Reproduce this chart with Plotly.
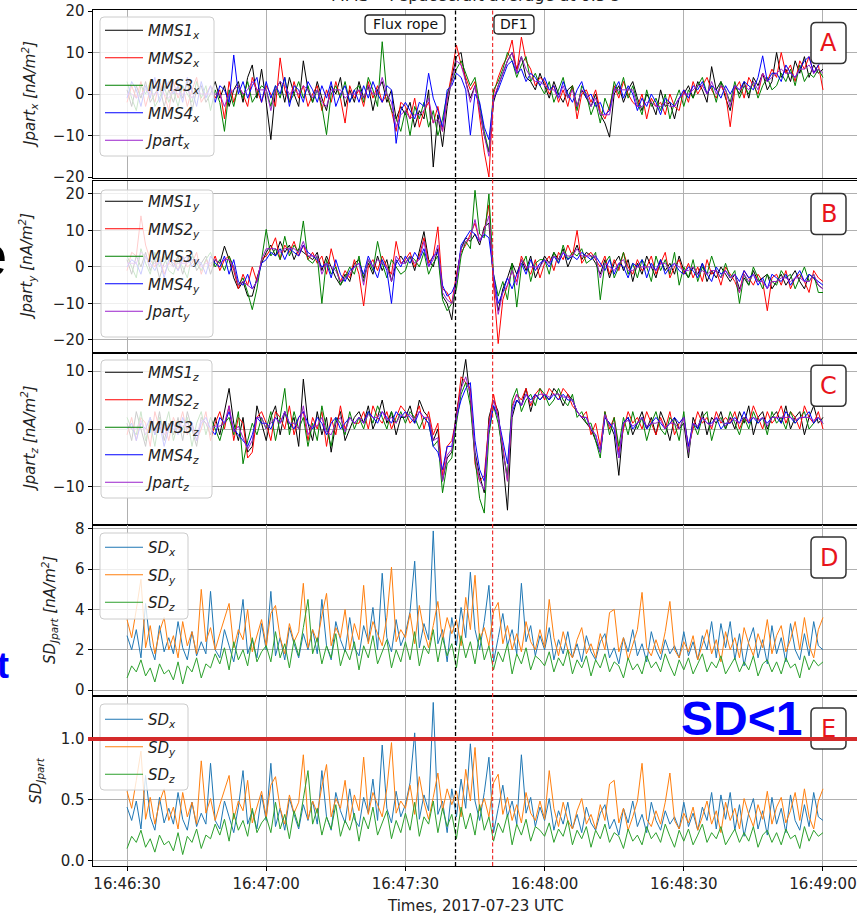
import plotly.graph_objects as go
import pandas as pd

W, H = 857, 924

# ---------------- data ----------------
START = "2017-07-23 16:46:30"
N_SAMPLES = 151
STEP = "1s"
times = pd.date_range(START, periods=N_SAMPLES, freq=STEP).strftime("%Y-%m-%d %H:%M:%S").tolist()

x_tickvals = ["2017-07-23 16:46:30", "2017-07-23 16:47:00", "2017-07-23 16:47:30",
              "2017-07-23 16:48:00", "2017-07-23 16:48:30", "2017-07-23 16:49:00"]
x_ticktext = ["16:46:30", "16:47:00", "16:47:30", "16:48:00", "16:48:30", "16:49:00"]
x_range = ["2017-07-23 16:46:22.56", "2017-07-23 16:49:07.33"]

flux_rope_time = "2017-07-23 16:47:40.8"
df1_time = "2017-07-23 16:47:48.8"

mms1_x = [1, -3, 2, -1, 3, -2, 0, 2, -3, 1,
          -2, 2, -1, 3, -4, 1, 2, -2, 0, 3,
          -1, 2, -3, 1, 3, -2, 4, 7, -1, 6,
          -2, -11, 1, 3, -2, 4, 0, -3, 8, 1,
          -2, 3, -1, -4, 2, 0, 4, -3, 1, -2,
          3, -1, 2, -4, 1, 3, -2, 1, -6, -3,
          -5, -2, -8, -4, -6, 1, -17.6, -5, -12.7, -3,
          4, 9, 10, 3, -1, 2, -4, -10, -14, -2,
          2, 5, 8, 10, 6, 9, 4, 3, 1, 5,
          2, -1, 3, 0, -2, 1, 2, -3, 1, -1,
          -3, 0, -5, -7, -10.4, 0, 2, -2, 1, 3,
          -1, -4, 0, -2, -5, 1, -3, -2, -6, -1,
          0, 2, -1, 3, 1, -2, 6.6, 1, 3, -1,
          -4, 2, 0, 3, -1, 4, 2, 5, 1, 3,
          10, 4, 6, 3, 8, 5, 9, 4, 7, 5,
          6]
mms2_x = [-2, 2, -1, 3, -3, 1, -2, 3, 0, -4,
          3, -1, 2, -3, 1, 4, -2, 0, 2, -1,
          1, -6, 3, -2, 2, 0, -3, 4, 1, -2,
          2, 0, -3, 8.7, 1, -2, 3, -1, 2, -3,
          0, 2, -4, 1, -2, 3, -1, -7, 2, -1,
          1, -3, 3, -1, 2, -2, 0, -4, -9, -2,
          -3, -6, -1, -8, -4, -2, -7, -3, -9, -1,
          5, 11.8, 7, 4, 1, 3, -6, -14, -20, 0,
          4, 7, 9, 13, 5, 13.7, 8, 6, 2, 4,
          3, 0, 2, -2, 1, -3, 2, -6, 0, 1,
          -2, 1, -4, -6, -3, 2, -1, 3, 0, -2,
          -3, 0, -6, -1, -3, -2, -5, 0, -3, -4,
          1, -2, 3, 0, 2, 4, 1, -1, 2, 0,
          -7.9, 1, 3, -1, 4, 2, 0, 5, 3, 6,
          4, 10, 5, 7, 3, 8, 6, 9, 5, 7,
          1]
mms3_x = [3, -1, -4, 2, 0, 3, -3, -1, 2, -2,
          1, -3, 2, 0, -2, 3, -1, 2, -4, 1,
          -2, -9, 1, -3, 2, -1, 3, -2, 0, 2,
          1, -3, 2, -1, 4, -2, 0, 3, -1, 2,
          -2, 1, -3, -9.8, 0, 2, -1, 3, -2, 1,
          2, -2, 4, 1, -3, 12.6, 0, -4, -6, -9,
          -4, -10, -3, -6, -2, -8, -4, -10, -6, 0,
          3, 6, 8, 5, 2, 4, -3, -9, -14, 1,
          3, 6, 10, 8, 4, 7, 9, 3, 5, 2,
          0, 3, -2, 1, 4, -1, 2, -4, 2, 0,
          -5, -2, -7, -1, -4, 3, 0, 4, -1, 2,
          -2, -5, 1, -3, -1, -4, 0, -6, -2, 1,
          -3, 1, -1, 2, 4, 0, 2, -2, 3, 1,
          -2, 3, -1, 2, 0, 3, -1, 2, 4, 1,
          2, 5, 3, 6, 2, 7, 3, 5, 4, 6,
          4]
mms4_x = [-1, 3, 1, -3, 2, -1, 4, -2, 1, 3,
          0, 2, -2, 4, 1, -3, 3, -1, 2, -2,
          2, 1, -2, 9.4, 0, 3, -1, 2, 4, -2,
          3, -1, 2, 0, 4, -3, 2, 1, -2, 3,
          1, -2, 2, -1, 3, -3, 0, 2, -2, 1,
          -2, 2, -1, 3, 0, -2, 2, 1, -11.9, -4,
          -2, -4, -6, -2, -3, 5, -1, -4, -8, 1,
          2, 5, 4, 1, -9.9, 0, -2, -8, -11, -1,
          1, 4, 7, 8, 5, 6, 3, 5, 4, 2,
          4, 1, 2, -1, 3, 0, -2, 1, 3, -1,
          0, -3, -2, -5, -4, 1, 3, -1, 2, 0,
          -4, -1, -3, 0, -2, -5, -1, -2, -3, -1,
          1, -1, 2, 1, 3, 0, 2, 1, -1, 2,
          0, 2, 1, 3, 2, 1, 4, 9.2, 3, 5,
          5, 3, 7, 5, 4, 6, 8, 9, 5, 7,
          8]
jpart_x = [0, 0, -1, 0, 1, 0, 0, 1, 0, -1,
           1, 0, 0, 1, -1, 1, 0, 0, 0, 0,
           0, -3, 0, 1, 2, 0, 1, 3, 1, 1,
           1, -4, 1, 3, 2, 0, 1, 0, 2, 1,
           -1, 1, -2, -3, 1, 1, 1, -1, 0, 0,
           1, -1, 2, 0, 0, 4, 0, -2, -8, -5,
           -4, -6, -5, -5, -4, -1, -7, -6, -9, -1,
           3, 8, 7, 3, -2, 2, -4, -10, -15, -1,
           2, 5, 8, 10, 5, 9, 6, 4, 3, 3,
           2, 1, 1, -1, 2, -1, 1, -3, 1, 0,
           -3, -1, -5, -5, -5, 1, 1, 1, 1, 1,
           -3, -3, -2, -2, -3, -3, -2, -3, -3, -1,
           0, 0, 1, 2, 2, 0, 3, 0, 2, 1,
           -3, 2, 1, 2, 1, 3, 1, 5, 3, 4,
           5, 6, 5, 5, 4, 6, 6, 7, 5, 6,
           5]

mms1_y = [2, -2, 3, 0, 4, -1, 2, -3, 1, 3,
          0, 3, -2, 2, 4, -1, 1, 3, -2, 2,
          1, 5.7, 2, -3, -6, -4, -8, -8, -3, 1,
          4, 6, 3, 7, 4, 6, 2, 5, 4, 3,
          2, 4, -1, 3, 0, -3, -5, -2, -4, 1,
          2, -3, 1, -2, 3, -1, 2, -4, 1, 3,
          1, 3, -1, 4, 9.7, 2, 0, 5, -8, -10,
          -14.5, -3, 5, 8, 7, 9, 6, 11, 12, -4,
          -12, -6, -3, 1, -2, 2, -1, 3, -3, 0,
          3, 1, 4, 2, 5, 0, 3, 6, 2, 4,
          3, 1, -2, 2, -3, 1, 3, -1, 2, -4,
          1, -2, 3, 0, -3, 2, -1, 1, -2, 3,
          -1, -3, 0, -2, 1, -4, -1, -3, 0, -2,
          -4, -2, -6, -3, -5, -1, -4, -3, -2, -6,
          -4, -2, -5, -3, -1, -4, -6, -2, -3, -5,
          -6]
mms2_y = [-1, 4, 3, 14, 6, 2, 0, 3, -2, 1,
          2, -1, 3, 0, 1, 4, -2, 2, 0, 3,
          -1, 2, 3, -1, -6, -2, -5, 0, -4, 2,
          3, 5, 8, 2, 6, 4, 7, 3, 6, 2,
          4, 1, 3, -2, 5, 0, -4, -1, -3, 2,
          -2, -10.7, 0, 2, -1, 3, 0, -2, 7, 1,
          2, 4, 0, 3, 8, 1, 3, 11, -6, -7,
          -10, -2, 4, 6, 9, 12, 7, 10, 17, -5,
          -21, -9, -5, -1, -4, 3, 0, -2, 2, -3,
          1, 3, -1, 4, 2, 6, 3, 10, 1, 3,
          4, 2, 0, 3, -2, 2, -1, 4, 0, -2,
          2, -1, 0, 3, -2, 1, 4, -3, 0, 2,
          -2, 1, -3, 0, -4, 2, -2, -1, -5, 0,
          -2, -4, -7, -1, -3, -5, -2, -4, -12, -3,
          -2, -5, -1, -6, -3, -2, -4, -7, -1, -3,
          -4]
mms3_y = [3, 0, -3, 5, 1, -2, 4, 0, 3, -1,
          -2, 2, 0, -3, 3, 1, -1, 2, 4, 0,
          2, -1, 3, 0, -5, -3, -7, -11.7, -6, 2,
          10.3, 3, 5, 2, 8.4, 3, 6, 4, 12.6, 2,
          1, 3, -10, 2, -2, 0, -5, -3, 0, -2,
          3, -4, 2, -1, 7, 1, -3, 2, 0, -2,
          -1, 3, 2, 0, 4, -2, 1, 3, -9, -12,
          -10, -6, 3, 7, 5, 21, 9, 8, 20, -2,
          -8, -4, -9, 1, -11, 0, 3, -4, 1, 2,
          2, -2, 4, 1, 6, 2, 4, 3, 5, 1,
          2, 4, -9, 1, 3, -3, 0, 4, -2, 1,
          -3, 2, 0, -4, 3, -1, 2, -2, 4, -5,
          0, -3, 2, -4, 0, -2, 3, -1, -3, 1,
          -3, -1, -10, -2, -5, 0, -3, -6, -2, -4,
          -5, -1, -3, -2, -6, -3, 0, -4, -2, -7,
          -7]
mms4_y = [0, 2, 1, -2, 3, 1, -1, 2, -3, 2,
          1, -1, 2, 3, 0, 2, 1, -2, 3, 1,
          0, 3, -2, 2, -4, -5, -2, -6, -4, 1,
          2, 4, 3, 5, 2, 5, 4, 3, 6, 4,
          3, 2, 0, 1, -3, 2, -2, -4, -1, 0,
          1, -2, 3, 0, -3, 2, -1, -10, 2, 0,
          3, 1, 4, 2, 5, 0, 3, 4, -5, -8,
          -7, -4, 6, 8, 10, 9, 7, 9, 8, -2,
          -10, -7, -3, -6, -2, 1, -2, 2, -1, 1,
          2, 0, 3, 1, 4, 2, 3, 2, 4, 3,
          2, 3, 1, -1, 2, -2, 1, 0, -3, 1,
          0, 2, -3, 1, -1, 2, -2, 0, 1, -1,
          -2, 0, -1, -3, 1, -2, -4, 0, -2, -1,
          -3, -2, -4, -1, -3, -2, -5, -3, -6, -2,
          -3, -4, -2, -5, -3, -1, -4, -2, -3, -4,
          -5]
jpart_y = [1, 1, 1, 4, 3, 0, 1, 1, 0, 1,
           0, 1, 1, 1, 2, 2, 0, 1, 1, 2,
           1, 2, 2, 0, -5, -4, -5, -6, -4, 2,
           5, 5, 5, 4, 5, 5, 5, 4, 7, 3,
           3, 3, -2, 1, 0, -1, -4, -3, -2, 0,
           1, -5, 2, 0, 2, 1, 0, -4, 3, 1,
           1, 3, 1, 2, 7, 0, 2, 6, -7, -9,
           -10, -4, 5, 7, 8, 13, 7, 10, 14, -3,
           -13, -7, -5, -1, -5, 2, 0, 0, 0, 0,
           2, 1, 3, 2, 4, 3, 3, 5, 3, 3,
           3, 3, -3, 1, 0, -1, 1, 2, -1, -1,
           0, 0, 0, 0, -1, 1, 1, -1, 1, 0,
           -1, -1, 0, -2, -1, -2, -1, -1, -3, -1,
           -3, -2, -7, -2, -4, -2, -4, -4, -6, -4,
           -4, -3, -3, -4, -3, -3, -4, -4, -2, -5,
           -6]

mms1_z = [1, -2, 3, 0, -3, 2, -1, 3, -2, 1,
          -1, 2, -2, 3, 0, -3, 2, 1, -1, 2,
          -1, 3, 7, 1, -2, 2, -4, -3, 4, 1,
          -2, 2, 4, -1, 3, 0, 2, -3, 8.6, 1,
          -2, 3, -1, 2, -4, 1, 3, -2, 0, 2,
          3, 1, 4, 0, 2, 5, 1, 3, -1, 2,
          2, 4, 1, 5, 3, 2, -2, 0, -9, -5,
          -4, 3, 7, 12, 5, -4, -8, -11, 2, 5,
          3, -5, -14, 2, 5, 4, 7, 3, 6, 5,
          6, 5, 7, 6, 4, 6, 5, 3, 2, 1,
          0, -2, -4, 2, 1, -1, -8, 1, 2, -1,
          1, 3, 0, 2, -1, 3, 1, -2, 2, 0,
          1, -5, 2, 0, 3, -1, 2, 1, 3, 0,
          2, 0, 3, 1, 4, -1, 2, 3, 0, 2,
          3, 1, 4, 0, 2, 3, -1, 2, 4, 1,
          2]
mms2_z = [-1, 2, -2, 2, 1, -3, 3, 0, 1, -2,
          2, 0, 3, -1, 1, -2, 0, 3, -2, 1,
          3, 0, 4, -2, 2, 1, -5, -4, 2, 3,
          1, -2, 3, 2, 0, 4, -1, 2, 3, -2,
          2, 0, 3, -3, 2, -1, 4, 0, 2, 1,
          1, 3, 0, 4, 2, 1, 3, 0, 2, 4,
          3, 1, 2, 4, 0, 3, -1, 1, -8, -3,
          -2, 2, 9, 8, 7, -6, -9, -8, 1, 6,
          2, -3, -9, 4, 6, 5, 7, 4, 6, 7,
          5, 7, 6, 5, 7, 6, 4, 3, 2, 3,
          -1, 1, -3, 3, 0, 2, -4, 0, 3, 1,
          2, 0, 3, 1, -1, 2, 0, 3, -1, 1,
          2, -3, 0, 3, 1, 2, 0, 3, 1, 2,
          1, 3, 0, 2, 1, 4, 2, 0, 3, 1,
          2, 4, 1, 3, 2, 0, 4, 2, 1, 3,
          0]
mms3_z = [2, 0, -1, 3, -2, 1, -3, 2, 0, 3,
          -2, 1, 0, 2, -3, 1, 3, -1, 2, 0,
          -2, 1, 2, -1, 3, -6, -2, 1, -1, 2,
          0, 3, -2, 2, 7, -1, 3, 0, 2, -3,
          1, -2, 4, 0, -3, 2, 1, -1, 3, 0,
          2, 0, 3, 1, 4, 2, 0, 3, 1, 3,
          1, 3, 2, 0, 2, 1, -3, -2, -11, -6,
          -5, 1, 6, 8, 4, -5, -12, -14.5, -1, 4,
          1, -4, -8, 5, 7, 3, 5, 6, 4, 7,
          6, 4, 5, 7, 5, 4, 6, 2, 3, 1,
          1, -2, -5, 3, -1, 2, -3, 2, -1, 3,
          0, 2, -2, 1, 3, 0, -1, 2, 1, -2,
          3, -4, 1, -1, 2, 3, -2, 1, 2, 0,
          3, 1, -1, 2, 0, 3, 1, 2, -1, 3,
          1, 2, 0, 3, 1, 2, 3, 0, 1, 2,
          1]
mms4_z = [0, 1, -2, 1, 0, 2, -1, 1, -3, 0,
          1, -1, 2, 0, 1, -2, 1, 2, 0, -1,
          2, 1, 3, 0, -1, -2, -3, -1, 2, 1,
          1, 0, 2, 1, 3, 1, 0, 2, 3, 1,
          0, 2, 1, -1, 1, 2, 0, 1, 2, 1,
          2, 1, 3, 2, 1, 3, 2, 1, 3, 2,
          3, 2, 1, 3, 2, 1, -3, -4, -7, -3,
          -3, 2, 5, 7, 8, -2, -7, -9, 0, 4,
          2, -2, -6, 3, 5, 4, 6, 5, 6, 5,
          6, 5, 6, 5, 6, 5, 5, 3, 2, 2,
          0, -1, -4, 2, 1, 0, -5, 1, 2, 0,
          1, 2, 0, 1, 2, 1, 0, 1, 2, 1,
          2, -3, 1, 0, 2, 1, 1, 2, 0, 1,
          1, 2, 1, 3, 1, 2, 1, 2, 1, 2,
          2, 1, 3, 2, 1, 2, 2, 3, 1, 2,
          1]
jpart_z = [0.5, 0, 0, 1.5, -1, 0.5, -0.5, 1.5, -1, 0.5,
           0, 0.5, 0.5, 1, 0, -1, 1.5, 1, 0, 0.5,
           0.5, 1, 4, -0.5, 0.5, -1.5, -3.5, -2, 2, 2,
           0, 1, 2, 1, 3, 1, 1, 0, 4, -1,
           0.5, 0.5, 2, -0.5, -1, 1, 2, -0.5, 2, 1,
           2, 1, 2.5, 2, 2, 3, 1.5, 2, 1, 2.5,
           2, 2.5, 1.5, 3, 2, 2, -2, -1.5, -9, -4.5,
           -3.5, 2, 7, 9, 6, -4.5, -9, -10.5, 0.5, 5,
           2, -3.5, -9, 3.5, 6, 4, 6, 4.5, 5.5, 6,
           6, 5.5, 6, 6, 5.5, 5.5, 5, 3, 2, 2,
           0, -1, -4, 2.5, 0.5, 1, -5, 1, 1.5, 0.5,
           1, 2, 0.5, 1, 1, 1.5, 0, 1, 1, 0,
           2, -4, 1, 0.5, 2, 1, 0.5, 2, 1.5, 0.5,
           2, 1.5, 1, 2, 1.5, 2, 1.5, 2, 0.5, 2,
           2, 2, 2, 2, 1.5, 2, 2, 2, 1.5, 2,
           1]

sd_x = [2.7, 2.0, 3.0, 1.6, 4.3, 2.2, 1.5, 3.2, 1.9, 2.6,
        1.8, 3.4, 2.1, 1.5, 2.9, 1.7, 2.4, 1.8, 4.9, 2.0,
        1.6, 3.0, 2.2, 1.4, 2.7, 4.5, 1.8, 2.5, 1.6, 3.3,
        2.0, 4.9, 1.7, 2.6, 1.5, 3.1, 2.3, 1.6, 2.8, 2.0,
        3.0, 1.8, 4.5, 2.2, 1.5, 3.4, 2.5, 1.9, 3.6, 2.1,
        1.7, 3.2, 2.4, 4.1, 2.0, 5.8, 2.6, 1.9, 3.5, 2.2,
        2.8, 3.9, 6.4, 2.1, 3.3, 2.5, 7.9, 2.3, 3.0, 1.4,
        3.6, 2.2, 4.1, 2.6, 5.85, 3.0, 2.0, 3.4, 5.2, 1.4,
        2.6, 3.8, 2.2, 3.0, 1.8, 5.3, 2.4, 3.2, 1.7, 2.7,
        2.0, 3.1, 1.5, 2.5, 1.8, 2.9, 1.6, 2.3, 1.4, 2.7,
        1.9, 1.5, 2.4, 2.8, 1.6, 2.1, 1.3, 2.6, 1.9, 3.0,
        1.7, 2.3, 1.4, 2.9, 2.0, 1.5, 2.5, 1.8, 2.2, 1.6,
        2.9, 1.7, 2.4, 1.5, 2.7, 2.0, 3.4, 1.6, 3.3, 2.1,
        3.4, 1.5, 2.8, 1.2, 2.4, 3.1, 1.6, 2.5, 1.3, 3.2,
        1.8, 2.6, 1.4, 3.3, 2.0, 1.5, 2.8, 1.7, 3.4, 2.2,
        2.0]
sd_y = [3.5, 2.6, 4.0, 5.5, 2.1, 3.2, 1.8, 2.9, 3.6, 2.0,
        2.7, 1.6, 3.4, 2.2, 2.9, 1.8, 5.0, 2.4, 3.1, 2.0,
        2.8, 3.6, 4.3, 2.1, 3.0, 2.5, 4.0, 1.9, 2.7, 3.5,
        2.2, 3.8, 4.2, 2.6, 1.8, 3.3, 2.4, 2.9, 5.3, 2.1,
        3.0, 2.4, 3.7, 4.8, 2.2, 3.1, 2.6, 4.0, 2.0, 3.3,
        2.5, 5.2, 2.3, 3.4, 2.8, 2.2, 3.6, 6.1, 2.4, 3.0,
        2.6, 3.8, 2.3, 4.2, 2.9, 2.1, 3.2, 4.4, 2.5, 3.6,
        2.8, 3.5, 2.2, 4.6, 3.0, 5.7, 2.5, 3.1, 2.2, 3.9,
        4.35, 2.3, 3.2, 2.0, 2.8, 1.9, 3.4, 2.4, 2.0, 3.0,
        2.1, 4.5, 2.6, 1.7, 2.9, 2.0, 1.6, 2.5, 3.1, 1.8,
        2.3, 1.6, 2.8, 2.0, 3.85, 4.0, 1.9, 2.6, 1.5, 2.2,
        3.0, 4.85, 2.1, 1.7, 2.5, 1.8, 2.9, 4.4, 2.0, 1.6,
        2.4, 1.9, 2.7, 1.5, 2.2, 3.0, 1.8, 2.5, 1.4, 2.9,
        2.0, 2.6, 1.6, 3.1, 2.3, 1.7, 2.8, 2.1, 3.5, 1.8,
        2.7, 3.2, 1.9, 2.5, 3.4, 2.0, 3.6, 2.2, 1.6, 3.0,
        3.6]
sd_z = [0.6, 1.2, 0.9, 1.5, 0.7, 1.1, 0.4, 1.3, 0.8, 1.0,
        0.5, 1.4, 0.3, 1.2, 0.9, 1.6, 0.6, 1.3, 1.1, 1.8,
        1.3, 2.1, 1.0, 2.4, 1.5, 2.0, 1.2, 2.6, 1.4, 1.9,
        2.2, 1.4, 2.9, 1.6, 2.3, 1.1, 2.5, 1.7, 3.1, 4.5,
        1.8, 2.6, 1.3, 2.2, 1.6, 2.8, 1.2, 2.0, 1.5, 2.4,
        1.0, 2.2, 1.6, 2.7, 1.3, 1.9, 2.5, 1.1, 2.0, 1.4,
        2.4, 1.5, 2.9, 1.2, 2.2, 1.8, 3.0, 1.4, 2.6, 1.7,
        2.3, 1.1, 2.7, 1.6, 2.4, 1.3, 2.8, 1.5, 2.2, 1.0,
        1.9, 1.4, 2.3, 0.8, 1.8, 1.3, 2.1, 1.0, 1.7, 1.5,
        1.2, 1.9, 0.9, 1.6, 1.2, 2.0, 0.8, 1.5, 1.1, 1.7,
        0.7, 1.5, 1.1, 1.8, 0.9, 1.4, 1.2, 0.6, 1.6, 1.0,
        1.3, 0.8, 1.7, 1.1, 1.4, 0.9, 1.8, 1.2, 0.7, 1.5,
        1.0, 1.6, 0.8, 1.3, 1.8, 0.9, 1.4, 1.1, 1.7, 0.8,
        1.2, 1.6, 0.9, 1.4, 1.0, 1.7, 0.7, 1.3, 1.5, 0.9,
        1.4, 0.8, 1.6, 1.1, 1.3, 0.6, 1.7, 1.0, 1.5, 1.2,
        1.4]

sdn_x = [0.44, 0.33, 0.49, 0.26, 0.70, 0.36, 0.25, 0.52, 0.31, 0.43,
         0.30, 0.56, 0.34, 0.25, 0.48, 0.28, 0.39, 0.30, 0.80, 0.33,
         0.26, 0.49, 0.36, 0.23, 0.44, 0.74, 0.30, 0.41, 0.26, 0.54,
         0.33, 0.80, 0.28, 0.43, 0.25, 0.51, 0.38, 0.26, 0.46, 0.33,
         0.49, 0.30, 0.74, 0.36, 0.25, 0.56, 0.41, 0.31, 0.59, 0.34,
         0.28, 0.52, 0.39, 0.67, 0.33, 0.95, 0.43, 0.31, 0.57, 0.36,
         0.46, 0.64, 1.05, 0.34, 0.54, 0.41, 1.30, 0.38, 0.49, 0.23,
         0.59, 0.36, 0.67, 0.43, 0.96, 0.49, 0.33, 0.56, 0.85, 0.23,
         0.43, 0.62, 0.36, 0.49, 0.30, 0.87, 0.39, 0.52, 0.28, 0.44,
         0.33, 0.51, 0.25, 0.41, 0.30, 0.48, 0.26, 0.38, 0.23, 0.44,
         0.31, 0.25, 0.39, 0.46, 0.26, 0.34, 0.21, 0.43, 0.31, 0.49,
         0.28, 0.38, 0.23, 0.48, 0.33, 0.25, 0.41, 0.30, 0.36, 0.26,
         0.48, 0.28, 0.39, 0.25, 0.44, 0.33, 0.56, 0.26, 0.54, 0.34,
         0.56, 0.25, 0.46, 0.20, 0.39, 0.51, 0.26, 0.41, 0.21, 0.52,
         0.30, 0.43, 0.23, 0.54, 0.33, 0.25, 0.46, 0.28, 0.56, 0.36,
         0.33]
sdn_y = [0.57, 0.43, 0.66, 0.90, 0.34, 0.52, 0.30, 0.48, 0.59, 0.33,
         0.44, 0.26, 0.56, 0.36, 0.48, 0.30, 0.82, 0.39, 0.51, 0.33,
         0.46, 0.59, 0.70, 0.34, 0.49, 0.41, 0.66, 0.31, 0.44, 0.57,
         0.36, 0.62, 0.69, 0.43, 0.30, 0.54, 0.39, 0.48, 0.87, 0.34,
         0.49, 0.39, 0.61, 0.79, 0.36, 0.51, 0.43, 0.66, 0.33, 0.54,
         0.41, 0.85, 0.38, 0.56, 0.46, 0.36, 0.59, 0.97, 0.39, 0.49,
         0.43, 0.62, 0.38, 0.69, 0.48, 0.34, 0.52, 0.72, 0.41, 0.59,
         0.46, 0.57, 0.36, 0.75, 0.49, 0.93, 0.41, 0.51, 0.36, 0.64,
         0.71, 0.38, 0.52, 0.33, 0.46, 0.31, 0.56, 0.39, 0.33, 0.49,
         0.34, 0.74, 0.43, 0.28, 0.48, 0.33, 0.26, 0.41, 0.51, 0.30,
         0.38, 0.26, 0.46, 0.33, 0.63, 0.66, 0.31, 0.43, 0.25, 0.36,
         0.49, 0.80, 0.34, 0.28, 0.41, 0.30, 0.48, 0.72, 0.33, 0.26,
         0.39, 0.31, 0.44, 0.25, 0.36, 0.49, 0.30, 0.41, 0.23, 0.48,
         0.33, 0.43, 0.26, 0.51, 0.38, 0.28, 0.46, 0.34, 0.57, 0.30,
         0.44, 0.52, 0.31, 0.41, 0.56, 0.33, 0.59, 0.36, 0.26, 0.49,
         0.59]
sdn_z = [0.10, 0.20, 0.15, 0.25, 0.11, 0.18, 0.07, 0.21, 0.13, 0.16,
         0.08, 0.23, 0.05, 0.20, 0.15, 0.26, 0.10, 0.21, 0.18, 0.30,
         0.21, 0.34, 0.16, 0.39, 0.25, 0.33, 0.20, 0.43, 0.23, 0.31,
         0.36, 0.23, 0.48, 0.26, 0.38, 0.18, 0.41, 0.28, 0.51, 0.74,
         0.30, 0.43, 0.21, 0.36, 0.26, 0.46, 0.20, 0.33, 0.25, 0.39,
         0.16, 0.36, 0.26, 0.44, 0.21, 0.31, 0.41, 0.18, 0.33, 0.23,
         0.39, 0.25, 0.48, 0.20, 0.36, 0.30, 0.49, 0.23, 0.43, 0.28,
         0.38, 0.18, 0.44, 0.26, 0.39, 0.21, 0.46, 0.25, 0.36, 0.16,
         0.31, 0.23, 0.38, 0.13, 0.30, 0.21, 0.34, 0.16, 0.28, 0.25,
         0.20, 0.31, 0.15, 0.26, 0.20, 0.33, 0.13, 0.25, 0.18, 0.28,
         0.11, 0.25, 0.18, 0.30, 0.15, 0.23, 0.20, 0.10, 0.26, 0.16,
         0.21, 0.13, 0.28, 0.18, 0.23, 0.15, 0.30, 0.20, 0.11, 0.25,
         0.16, 0.26, 0.13, 0.21, 0.30, 0.15, 0.23, 0.18, 0.28, 0.13,
         0.20, 0.26, 0.15, 0.23, 0.16, 0.28, 0.11, 0.21, 0.25, 0.15,
         0.23, 0.13, 0.26, 0.18, 0.21, 0.10, 0.28, 0.16, 0.25, 0.20,
         0.23]

for arr in [mms1_x, mms2_x, mms3_x, mms4_x, jpart_x, mms1_y, mms2_y, mms3_y, mms4_y, jpart_y,
            mms1_z, mms2_z, mms3_z, mms4_z, jpart_z, sd_x, sd_y, sd_z, sdn_x, sdn_y, sdn_z]:
    assert len(arr) == N_SAMPLES, len(arr)

# ---------------- styling ----------------
FONT = "DejaVu Sans"
MMS_COLORS = ["#000000", "#ff0000", "#008000", "#0000ff", "#9a22cc"]
SD_COLORS = ["#1f77b4", "#ff7f0e", "#2ca02c"]
GRID = "#b0b0b0"


def px(x):
    return x / W


def py(y):
    return 1 - y / H


# pixel geometry: panel top/bottom, legend item anchor, legend box (x0, y0, x1, y1)
panels = [
    dict(top=10, bottom=178, rng=[-20.24, 20.24], tv=[-20, -10, 0, 10, 20], fmt="d",
         label="<i>Jpart<sub>x</sub> [nA/m<sup>2</sup>]</i>", lx=30, leg_top=14,
         box=(100, 17, 214, 156), letter="A"),
    dict(top=181, bottom=352.7, rng=[-23.5, 23.55], tv=[-20, -10, 0, 10, 20], fmt="d",
         label="<i>Jpart<sub>y</sub> [nA/m<sup>2</sup>]</i>", lx=27, leg_top=185,
         box=(101, 190, 213, 337), letter="B"),
    dict(top=352.7, bottom=524.5, rng=[-16.47, 13.16], tv=[-10, 0, 10], fmt="d",
         label="<i>Jpart<sub>z</sub> [nA/m<sup>2</sup>]</i>", lx=29, leg_top=356,
         box=(101, 360, 212, 498), letter="C"),
    dict(top=524.5, bottom=695.5, rng=[-0.27, 8.22], tv=[0, 2, 4, 6, 8], fmt="d",
         label="<i>SD<sub>Jpart</sub> [nA/m<sup>2</sup>]</i>", lx=49, leg_top=531,
         box=(100, 533, 188, 619), letter="D"),
    dict(top=695.5, bottom=866, rng=[-0.044, 1.357], tv=[0.0, 0.5, 1.0], fmt=".1f",
         label="<i>SD<sub>Jpart</sub></i>", lx=37, leg_top=703,
         box=(100, 704, 188, 790), letter="E"),
]

fig = go.Figure()

j_sets = [
    ("x", [mms1_x, mms2_x, mms3_x, mms4_x, jpart_x]),
    ("y", [mms1_y, mms2_y, mms3_y, mms4_y, jpart_y]),
    ("z", [mms1_z, mms2_z, mms3_z, mms4_z, jpart_z]),
]
names = ["MMS1", "MMS2", "MMS3", "MMS4", "Jpart"]
for k, (comp, series) in enumerate(j_sets, start=1):
    suffix = "" if k == 1 else str(k)
    for name, arr, col in zip(names, series, MMS_COLORS):
        fig.add_trace(go.Scatter(
            x=times, y=arr, mode="lines", line=dict(color=col, width=1),
            name=f"<i>{name}<sub>{comp}</sub></i>", legendgroup=f"{name}{comp}",
            xaxis=f"x{suffix}", yaxis=f"y{suffix}", legend=f"legend{suffix}"))

for k, series in [(4, [sd_x, sd_y, sd_z]), (5, [sdn_x, sdn_y, sdn_z])]:
    for comp, arr, col in zip(["x", "y", "z"], series, SD_COLORS):
        fig.add_trace(go.Scatter(
            x=times, y=arr, mode="lines", line=dict(color=col, width=1),
            name=f"<i>SD<sub>{comp}</sub></i>", legendgroup=f"sd{k}{comp}",
            xaxis=f"x{k}", yaxis=f"y{k}", legend=f"legend{k}"))

layout = dict(
    width=W, height=H, margin=dict(l=0, r=0, t=0, b=0, autoexpand=False),
    paper_bgcolor="white", plot_bgcolor="white",
    font=dict(family=FONT, size=15, color="#222222"),
    showlegend=True,
)

annotations = []
shapes = []


def rrect(x0, y0, x1, y1, r=5):
    p = [f"M {px(x0 + r)},{py(y0)}",
         f"L {px(x1 - r)},{py(y0)}",
         f"Q {px(x1)},{py(y0)} {px(x1)},{py(y0 + r)}",
         f"L {px(x1)},{py(y1 - r)}",
         f"Q {px(x1)},{py(y1)} {px(x1 - r)},{py(y1)}",
         f"L {px(x0 + r)},{py(y1)}",
         f"Q {px(x0)},{py(y1)} {px(x0)},{py(y1 - r)}",
         f"L {px(x0)},{py(y0 + r)}",
         f"Q {px(x0)},{py(y0)} {px(x0 + r)},{py(y0)}",
         "Z"]
    return " ".join(p)


for k, p in enumerate(panels, start=1):
    suffix = "" if k == 1 else str(k)
    xa = dict(domain=[px(92.5), 1], range=x_range, type="date",
              tickvals=x_tickvals, ticktext=x_ticktext,
              showgrid=True, gridcolor=GRID, gridwidth=1,
              showline=True, linecolor="black", linewidth=1, mirror=True,
              zeroline=False, anchor=f"y{suffix}", automargin=False,
              showticklabels=(k == 5), ticks="outside" if k == 5 else "",
              ticklen=4, tickcolor="black", tickfont=dict(size=15, color="#222222"))
    if k > 1:
        xa["matches"] = "x"
    ya = dict(domain=[py(p["bottom"]), py(p["top"])], range=p["rng"],
              tickvals=p["tv"], tickformat=p["fmt"],
              showgrid=True, gridcolor=GRID, gridwidth=1,
              showline=True, linecolor="black", linewidth=1, mirror=False,
              zeroline=False, anchor=f"x{suffix}", ticks="outside", ticklen=4,
              automargin=False,
              tickcolor="black", tickfont=dict(size=15, color="#222222"))
    layout[f"xaxis{suffix}"] = xa
    layout[f"yaxis{suffix}"] = ya
    layout[f"legend{suffix}"] = dict(
        x=px(100), y=py(p["leg_top"]), xanchor="left", yanchor="top",
        bgcolor="rgba(0,0,0,0)", borderwidth=0,
        tracegroupgap=5, itemwidth=38,
        font=dict(family=FONT, size=15, color="#222222"))
    # rounded, semi-transparent legend frame
    bx0, by0, bx1, by1 = p["box"]
    shapes.append(dict(type="path", path=rrect(bx0, by0, bx1, by1, 4), xref="paper", yref="paper",
                       line=dict(color="#cccccc", width=1), fillcolor="rgba(255,255,255,0.8)",
                       layer="above"))
    annotations.append(dict(
        xref="paper", yref="paper", x=px(p["lx"]), y=py((p["top"] + p["bottom"]) / 2),
        text=p["label"], textangle=-90, showarrow=False,
        xanchor="center", yanchor="middle", font=dict(size=15, color="#222222")))
    bt = p["top"] + 12.5
    bb = bt + 41
    shapes.append(dict(type="path", path=rrect(811, bt, 846, bb, 5), xref="paper", yref="paper",
                       line=dict(color="#333333", width=1.5), fillcolor="white", layer="above"))
    annotations.append(dict(
        xref="paper", yref="paper", x=px(828.5), y=py((bt + bb) / 2),
        text=p["letter"], showarrow=False, xanchor="center", yanchor="middle",
        font=dict(size=24, color="#e8141b")))

shapes.append(dict(type="line", xref="x", yref="paper", x0=flux_rope_time, x1=flux_rope_time,
                   y0=py(866), y1=py(10), line=dict(color="black", width=1.3, dash="4px,2.5px"),
                   layer="above"))
shapes.append(dict(type="line", xref="x", yref="paper", x0=df1_time, x1=df1_time,
                   y0=py(866), y1=py(10), line=dict(color="#ee2222", width=1.1, dash="4px,2.5px"),
                   layer="above"))
shapes.append(dict(type="path", path=rrect(365, 15, 445, 34, 4), xref="paper", yref="paper",
                   line=dict(color="#222222", width=1.3), fillcolor="white", layer="above"))
shapes.append(dict(type="path", path=rrect(494, 15, 534, 34, 4), xref="paper", yref="paper",
                   line=dict(color="#222222", width=1.3), fillcolor="white", layer="above"))
annotations.append(dict(xref="paper", yref="paper", x=px(405), y=py(24.5), text="Flux rope",
                        showarrow=False, xanchor="center", yanchor="middle",
                        font=dict(size=14, color="#111111")))
annotations.append(dict(xref="paper", yref="paper", x=px(514), y=py(24.5), text="DF1",
                        showarrow=False, xanchor="center", yanchor="middle",
                        font=dict(size=14, color="#111111")))

shapes.append(dict(type="line", xref="paper", yref="y5", x0=px(88), x1=1, y0=1.0, y1=1.0,
                   line=dict(color="#d42a2a", width=4), layer="above"))
annotations.append(dict(xref="paper", yref="paper", x=px(804), y=py(718), text="<b>SD&lt;1</b>",
                        showarrow=False, xanchor="right", yanchor="middle",
                        font=dict(family="Liberation Sans", size=48, color="#0000ff")))

annotations.append(dict(xref="paper", yref="paper", x=px(475), y=py(906), text="Times, 2017-07-23 UTC",
                        showarrow=False, xanchor="center", yanchor="middle",
                        font=dict(size=15, color="#222222")))
annotations.append(dict(xref="paper", yref="paper", x=px(475), y=py(-5),
                        text="MMS - 4 spacecraft average at 0.5 s",
                        showarrow=False, xanchor="center", yanchor="middle",
                        font=dict(size=16, color="#222222")))

annotations.append(dict(xref="paper", yref="paper", x=px(9), y=py(256), text="e",
                        showarrow=False, xanchor="right", yanchor="middle",
                        font=dict(family="Liberation Sans", size=60, color="#000000")))
annotations.append(dict(xref="paper", yref="paper", x=px(11), y=py(665), text="<b>t</b>",
                        showarrow=False, xanchor="right", yanchor="middle",
                        font=dict(family="Liberation Sans", size=36, color="#0000ff")))

layout["annotations"] = annotations
layout["shapes"] = shapes
fig.update_layout(**layout)

fig.write_html("out.html")
